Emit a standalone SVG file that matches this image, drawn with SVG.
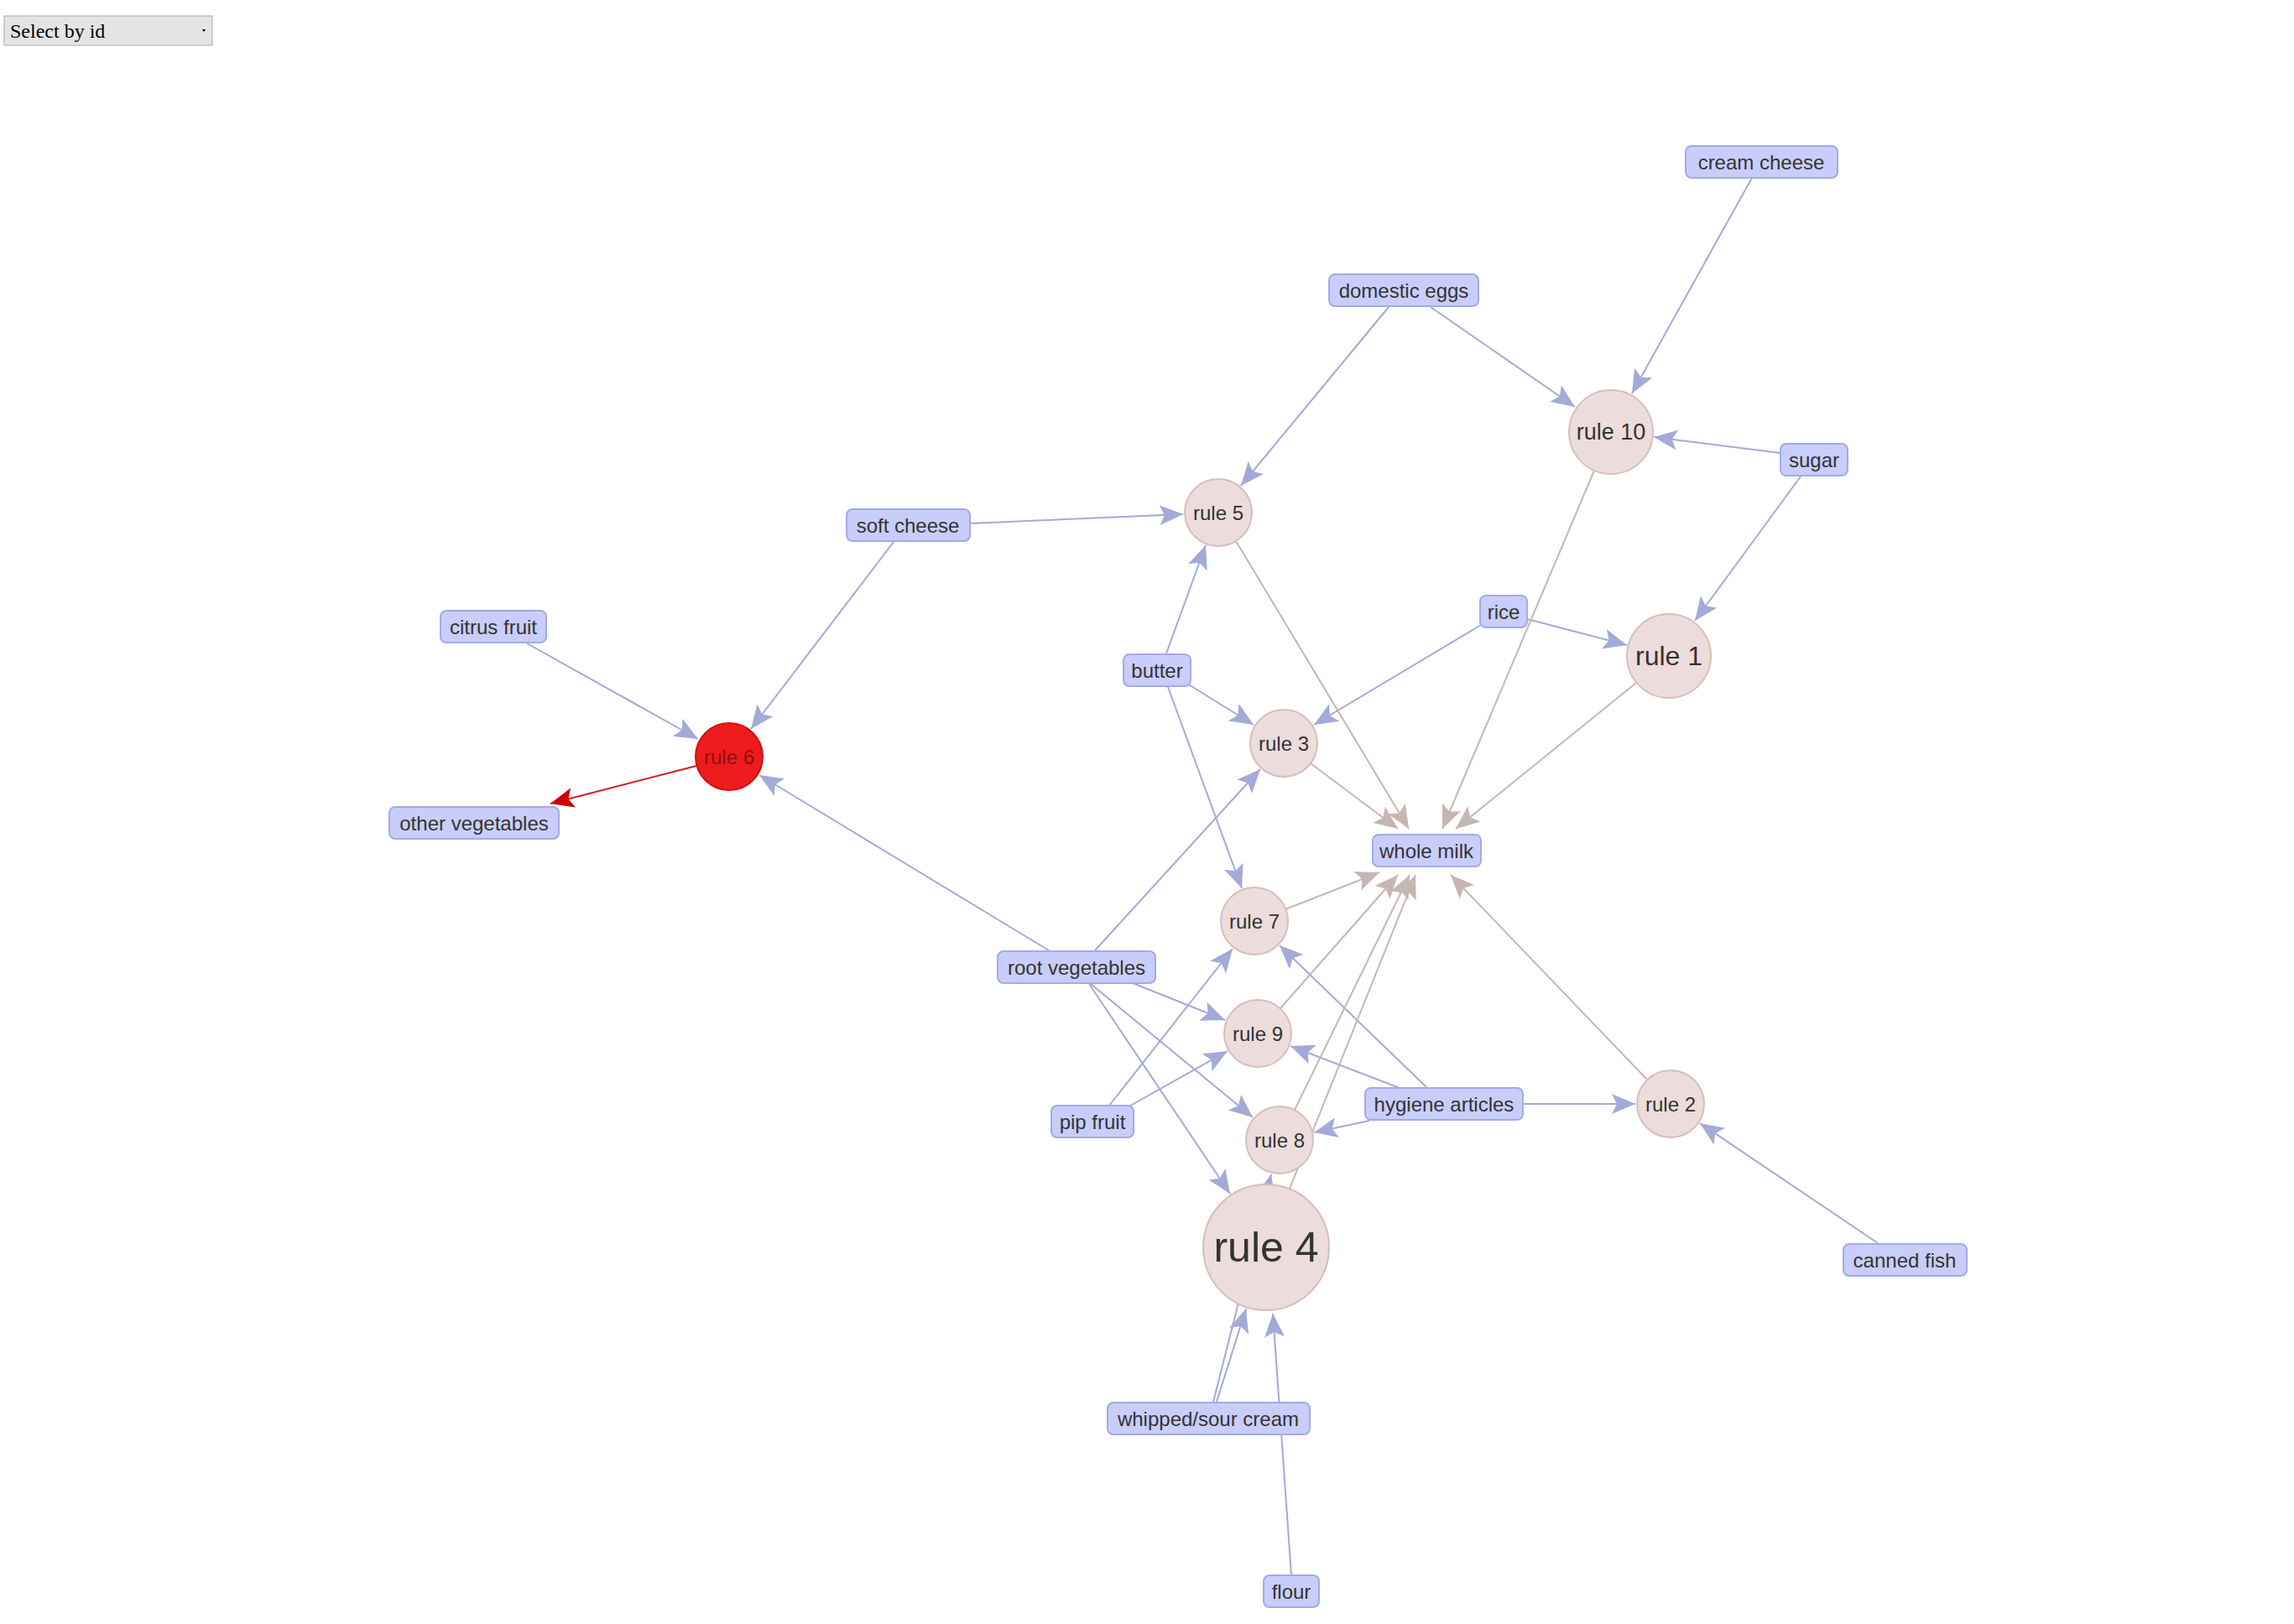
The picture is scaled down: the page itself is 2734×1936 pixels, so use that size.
<svg xmlns="http://www.w3.org/2000/svg" width="2734" height="1936" viewBox="0 0 2734 1936">
<style>
.e{stroke:#a3aad8;stroke-width:2;fill:none;marker-end:url(#ab)}
.w{stroke:#c6b6b3;stroke-width:2;fill:none;marker-end:url(#aw)}
.r{stroke:#d41c1c;stroke-width:2;fill:none;marker-end:url(#ar)}
.item rect{fill:#c9cdfb;stroke:#a3aae6;stroke-width:2}
.rule circle{fill:#ecdcdb;stroke:#d4bfbd;stroke-width:2}
text{font-family:"Liberation Sans",Arial,sans-serif;fill:#333;text-anchor:middle;dominant-baseline:central;font-size:24px}
</style>
<defs>
<marker id="ab" markerUnits="userSpaceOnUse" markerWidth="30" markerHeight="24" refX="28" refY="12" orient="auto"><path d="M0,0L28,12L0,24L6,12Z" fill="#a3aad8"/></marker>
<marker id="aw" markerUnits="userSpaceOnUse" markerWidth="30" markerHeight="24" refX="28" refY="12" orient="auto"><path d="M0,0L28,12L0,24L6,12Z" fill="#c6b6b3"/></marker>
<marker id="ar" markerUnits="userSpaceOnUse" markerWidth="30" markerHeight="24" refX="28" refY="12" orient="auto"><path d="M0,0L28,12L0,24L6,12Z" fill="#c00"/></marker>
</defs>
<g id="select"><rect x="5" y="19" width="248" height="35" fill="#e4e4e4" stroke="#aaa"/><text x="12" y="37" style="font-family:'Liberation Serif',serif;text-anchor:start;font-size:24px;fill:#000">Select by id</text><path d="M241,35l4,0l-2,3z" fill="#000"/></g>
<g id="edges">
<line class="e" x1="2088" y1="212" x2="1945" y2="469"/>
<line class="e" x1="1705" y1="366" x2="1877" y2="485"/>
<line class="e" x1="1655" y1="366" x2="1479" y2="579"/>
<line class="e" x1="2122" y1="540" x2="1971" y2="521"/>
<line class="e" x1="2146" y1="568" x2="2020" y2="740"/>
<line class="e" x1="1156" y1="624" x2="1410" y2="613"/>
<line class="e" x1="1065" y1="646" x2="895" y2="869"/>
<line class="e" x1="628" y1="767" x2="832" y2="881"/>
<line class="r" x1="830" y1="913" x2="656" y2="958"/>
<line class="e" x1="1820" y1="738" x2="1939" y2="769"/>
<line class="e" x1="1765" y1="745" x2="1566" y2="864"/>
<line class="e" x1="1390" y1="779" x2="1437" y2="650"/>
<line class="e" x1="1415" y1="815" x2="1494" y2="864"/>
<line class="e" x1="1392" y1="819" x2="1480" y2="1059"/>
<line class="e" x1="1250" y1="1133" x2="905" y2="924"/>
<line class="e" x1="1305" y1="1133" x2="1502" y2="917"/>
<line class="e" x1="1345" y1="1170" x2="1460" y2="1216"/>
<line class="e" x1="1300" y1="1173" x2="1493" y2="1332"/>
<line class="e" x1="1298" y1="1173" x2="1466" y2="1423"/>
<line class="e" x1="1322" y1="1318" x2="1469" y2="1131"/>
<line class="e" x1="1340" y1="1322" x2="1463" y2="1253"/>
<line class="e" x1="1700" y1="1296" x2="1525" y2="1127"/>
<line class="e" x1="1668" y1="1297" x2="1538" y2="1247"/>
<line class="e" x1="1632" y1="1336" x2="1566" y2="1350"/>
<line class="e" x1="1815" y1="1316" x2="1949" y2="1316"/>
<line class="e" x1="2238" y1="1482" x2="2026" y2="1339"/>
<line class="e" x1="1450" y1="1671" x2="1485" y2="1560"/>
<line class="e" x1="1446" y1="1671" x2="1515" y2="1400"/>
<line class="e" x1="1539" y1="1878" x2="1517" y2="1566"/>
<line class="w" x1="1473" y1="645" x2="1679" y2="988"/>
<line class="w" x1="1900" y1="561" x2="1719" y2="988"/>
<line class="w" x1="1950" y1="814" x2="1735" y2="988"/>
<line class="w" x1="1562" y1="910" x2="1666" y2="988"/>
<line class="w" x1="1532" y1="1084" x2="1644" y2="1040"/>
<line class="w" x1="1526" y1="1202" x2="1666" y2="1043"/>
<line class="w" x1="1543" y1="1323" x2="1680" y2="1043"/>
<line class="w" x1="1537" y1="1417" x2="1687" y2="1043"/>
<line class="w" x1="1963" y1="1287" x2="1729" y2="1043"/>
</g>
<g id="cream_cheese" class="item"><rect x="2009" y="174" width="181" height="38" rx="7"/><text x="2099" y="193">cream cheese</text></g>
<g id="domestic_eggs" class="item"><rect x="1584" y="327" width="178" height="38" rx="7"/><text x="1673" y="346">domestic eggs</text></g>
<g id="sugar" class="item"><rect x="2122" y="529" width="80" height="38" rx="7"/><text x="2162" y="548">sugar</text></g>
<g id="soft_cheese" class="item"><rect x="1009" y="607" width="147" height="38" rx="7"/><text x="1082" y="626">soft cheese</text></g>
<g id="rice" class="item"><rect x="1764" y="710" width="56" height="38" rx="7"/><text x="1792" y="729">rice</text></g>
<g id="citrus_fruit" class="item"><rect x="525" y="728" width="126" height="38" rx="7"/><text x="588" y="747">citrus fruit</text></g>
<g id="butter" class="item"><rect x="1339" y="780" width="80" height="38" rx="7"/><text x="1379" y="799">butter</text></g>
<g id="other_vegetables" class="item"><rect x="464" y="962" width="202" height="38" rx="7"/><text x="565" y="981">other vegetables</text></g>
<g id="whole_milk" class="item"><rect x="1636" y="995" width="129" height="38" rx="7"/><text x="1700" y="1014">whole milk</text></g>
<g id="root_vegetables" class="item"><rect x="1189" y="1134" width="188" height="38" rx="7"/><text x="1283" y="1153">root vegetables</text></g>
<g id="pip_fruit" class="item"><rect x="1253" y="1318" width="98" height="38" rx="7"/><text x="1302" y="1337">pip fruit</text></g>
<g id="hygiene_articles" class="item"><rect x="1627" y="1297" width="188" height="38" rx="7"/><text x="1721" y="1316">hygiene articles</text></g>
<g id="canned_fish" class="item"><rect x="2197" y="1483" width="147" height="38" rx="7"/><text x="2270" y="1502">canned fish</text></g>
<g id="whipped_sour_cream" class="item"><rect x="1320" y="1672" width="241" height="38" rx="7"/><text x="1440" y="1691">whipped/sour cream</text></g>
<g id="flour" class="item"><rect x="1506" y="1878" width="66" height="38" rx="7"/><text x="1539" y="1897">flour</text></g>
<g id="rule_10" class="rule"><circle cx="1920" cy="515" r="50"/><text x="1920" y="515" style="font-size:27px">rule 10</text></g>
<g id="rule_5" class="rule"><circle cx="1452" cy="611" r="40"/><text x="1452" y="611">rule 5</text></g>
<g id="rule_1" class="rule"><circle cx="1989" cy="782" r="50"/><text x="1989" y="782" style="font-size:32px">rule 1</text></g>
<g id="rule_3" class="rule"><circle cx="1530" cy="886" r="40"/><text x="1530" y="886">rule 3</text></g>
<g id="rule_6"><circle cx="869" cy="902" r="40" fill="#ee1c1c" stroke="#d01010" stroke-width="2"/><text x="869" y="902" style="fill:#8a1010">rule 6</text></g>
<g id="rule_7" class="rule"><circle cx="1495" cy="1098" r="40"/><text x="1495" y="1098">rule 7</text></g>
<g id="rule_9" class="rule"><circle cx="1499" cy="1232" r="40"/><text x="1499" y="1232">rule 9</text></g>
<g id="rule_2" class="rule"><circle cx="1991" cy="1316" r="40"/><text x="1991" y="1316">rule 2</text></g>
<g id="rule_8" class="rule"><circle cx="1525" cy="1359" r="40"/><text x="1525" y="1359">rule 8</text></g>
<g id="rule_4" class="rule"><circle cx="1509" cy="1487" r="75"/><text x="1509" y="1487" style="font-size:50px">rule 4</text></g>
</svg>
